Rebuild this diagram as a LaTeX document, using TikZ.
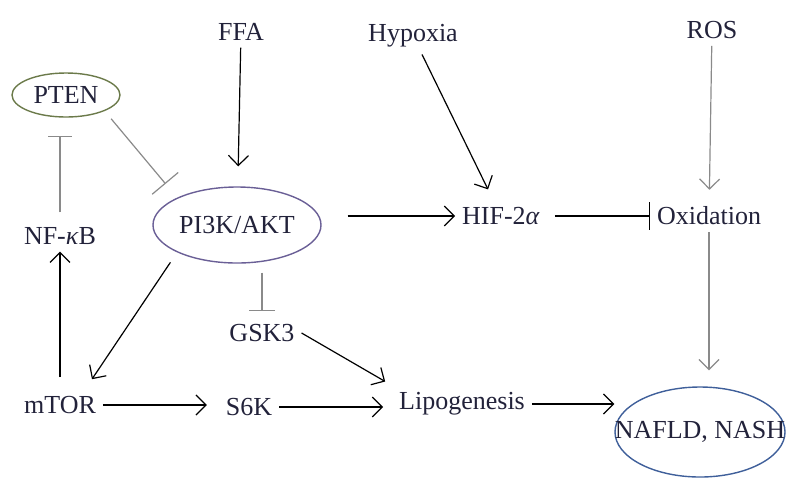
\documentclass[tikz,border=0pt]{standalone}
\usepackage{fontspec}
\setmainfont{Liberation Serif}
\usetikzlibrary{arrows.meta,calc,shapes.geometric}
\definecolor{txtcol}{HTML}{22223A}
\definecolor{ptencol}{HTML}{6B7A4A}
\definecolor{pikcol}{HTML}{6A5F96}
\definecolor{nafcol}{HTML}{3F5F9A}
\definecolor{lightline}{HTML}{8A8A8A}
\tikzset{
	lbl/.style={text=txtcol, font=\fontsize{13}{15}\selectfont},
	ell/.style={lbl, ellipse, draw, line width=0.7pt, inner sep=0pt},
	act/.style={-{Straight Barb[length=5pt,width=10pt]}, line width=0.6pt},
	inh/.style={-{Bar[width=#1]}, line width=0.6pt}
}

\begin{document}
\begin{tikzpicture}[x=0.5pt, y=-0.5pt]
			%%%%% START %%%%%
			\useasboundingbox (0,0) rectangle (786,478);
			
			\node[lbl] (ffa) at (241,32) {FFA};
			\node[lbl] (hyp) at (413,36) {Hypoxia};
			\node[lbl] (ros) at (712,30) {ROS};
			
			\node[ell, draw=ptencol, minimum width=54pt, minimum height=22pt] (pten) at (66,95) {PTEN};
			\node[lbl] (nfkb) at (60,236) {NF-\textit{κ}B};
			\node[ell, draw=pikcol, minimum width=84pt, minimum height=38pt] (pik) at (237,225) {PI3K/AKT};
			\node[lbl] (hif) at (501,216) {HIF-2\textit{α}};
			\node[lbl] (oxi) at (709,216) {Oxidation};
			
			\node[lbl] (gsk) at (262,333) {GSK3};
			\node[lbl] (mtor) at (60,405) {mTOR};
			\node[lbl] (s6k) at (249,407) {S6K};
			\node[lbl] (lipo) at (462,404) {Lipogenesis};
			\node[ell, draw=nafcol, minimum width=85pt, minimum height=45pt, label={[lbl]center:{NAFLD, NASH}}] (nafld) at (700,432) {};
			
			% inputs from the top
			\draw[act, shorten >=10pt] (ffa) -- (pik);
			\draw[act, shorten >=6pt] (hyp) -- (hif);
			\draw[act, lightline, shorten >=5pt] (ros) -- (oxi);
			
			\draw[inh=17pt, lightline, shorten <=5pt, shorten >=9pt] (pten.south east) -- (pik.north west);
			\draw[inh=12pt, lightline, shorten <=4pt, shorten >=9pt] (nfkb.north) -- (nfkb.north |- pten.south);
			\draw[act, shorten <=13pt] (pik.east |- hif.west) -- (hif.west);
			\draw[inh=14pt, shorten <=4pt] (hif.east) -- (oxi.west);
			\draw[act, lightline, shorten >=8pt] (oxi.south) -- (oxi.south |- nafld.north);
			
			\draw[act, shorten <=6pt] (pik.south west) -- ([xshift=-5.5pt,yshift=5pt]mtor.north east);
			\draw[act, shorten <=6pt] (mtor) -- (nfkb);
			\draw[inh=13pt, lightline, shorten <=4.5pt, shorten >=3pt] (pik.south -| gsk.north) -- (gsk.north);
			
			\draw[act, shorten >=6pt] (mtor.east) -- (mtor.east -| s6k.west);
			\draw[act, shorten >=4.5pt] (s6k.east) -- (s6k.east -| lipo.west);
			\draw[act, shorten >=4pt] (gsk.east) -- (lipo.north west);
			\draw[act] (lipo.east) -- (lipo.east -| nafld.west);
			
			%%%%% END %%%%%
\end{tikzpicture}
\end{document}
